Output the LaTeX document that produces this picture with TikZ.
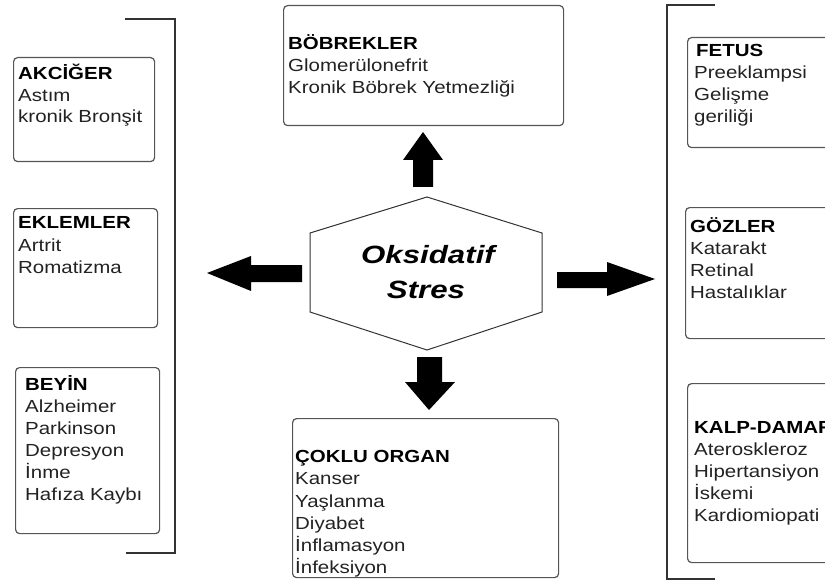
\documentclass[tikz,border=0pt]{standalone}
\usepackage{fontspec}
\setmainfont{Liberation Sans}[FakeStretch=1.17]
\newfontfamily\hexfont{Liberation Sans}[FakeStretch=1.25]
\definecolor{boxc}{HTML}{555555}
\definecolor{brkc}{HTML}{333333}
\definecolor{txc}{HTML}{222222}
\begin{document}
\begin{tikzpicture}[x=1pt,y=-1pt,
  box/.style={draw=boxc, line width=1.2pt, rounded corners=4pt, inner sep=0pt, anchor=north west},
  brk/.style={draw=brkc, line width=1.4pt},
  hd/.style={anchor=base west, inner sep=0pt, font=\fontsize{17.5}{22}\selectfont\bfseries, text=black},
  tx/.style={anchor=base west, inner sep=0pt, font=\fontsize{17.5}{22}\selectfont, text=txc},
  hx/.style={anchor=base, inner sep=0pt, font=\hexfont\fontsize{25}{35}\selectfont\bfseries\itshape, text=black},
  blk/.style={fill=black}]
\useasboundingbox (0,0) rectangle (825,583);
\clip (0,0) rectangle (825,583);
% brackets
\draw[brk] (125,19) -- (175,19) -- (175,553) -- (126,553);
\draw[brk] (715,5) -- (667,5) -- (667,579) -- (715,579);
% boxes
\node[box, minimum width=141pt, minimum height=104pt] (akc) at (13,57) {};
\node[box, minimum width=144pt, minimum height=119pt] (ekl) at (13,208) {};
\node[box, minimum width=144pt, minimum height=166pt] (bey) at (15,367) {};
\node[box, minimum width=280pt, minimum height=120pt] (bob) at (283,5) {};
\node[box, minimum width=266pt, minimum height=159pt] (cok) at (292,418) {};
\node[box, minimum width=160pt, minimum height=110pt] (fet) at (687,37) {};
\node[box, minimum width=160pt, minimum height=131pt] (goz) at (685,207) {};
\node[box, minimum width=160pt, minimum height=179pt] (kal) at (687,383) {};
% hexagon
\draw[draw=brkc, line width=1pt] (427,197) -- (542,233) -- (542,312) -- (427,350) -- (310,312) -- (310,233) -- cycle;
\node[hx] (ox1) at (428,263) {Oksidatif};
\node[hx] (ox2) at (426,298) {Stres};
% arrows
\fill[blk] (413,187) -- (413,160) -- (403,160) -- (423,132) -- (443,160) -- (433,160) -- (433,187) -- cycle;
\fill[blk] (417,357) -- (417,382) -- (405,382) -- (429,410) -- (455,382) -- (442,382) -- (442,357) -- cycle;
\fill[blk] (302,265) -- (251,265) -- (251,256) -- (207,273) -- (251,291) -- (251,282) -- (302,282) -- cycle;
\fill[blk] (557,272) -- (607,272) -- (607,262) -- (655,279) -- (607,296) -- (607,288) -- (557,288) -- cycle;
% texts
\node[hd] (akc1) at (18,80) {AKCİĞER};
\node[tx] (akc2) at (18,101.5) {Astım};
\node[tx] (akc3) at (18,123) {kronik Bronşit};
\node[hd] (ekl1) at (18,229) {EKLEMLER};
\node[tx] (ekl2) at (18,251) {Artrit};
\node[tx] (ekl3) at (18,273) {Romatizma};
\node[hd] (bey1) at (25,390) {BEYİN};
\node[tx] (bey2) at (25,412) {Alzheimer};
\node[tx] (bey3) at (25,434) {Parkinson};
\node[tx] (bey4) at (25,456) {Depresyon};
\node[tx] (bey5) at (25,478) {İnme};
\node[tx] (bey6) at (25,500) {Hafıza Kaybı};
\node[hd] (bob1) at (288,50) {BÖBREKLER};
\node[tx] (bob2) at (288,72) {Glomerülonefrit};
\node[tx] (bob3) at (288,94) {Kronik Böbrek Yetmezliği};
\node[hd] (cok1) at (295,462) {ÇOKLU ORGAN};
\node[tx] (cok2) at (295,484.5) {Kanser};
\node[tx] (cok3) at (295,507) {Yaşlanma};
\node[tx] (cok4) at (295,529) {Diyabet};
\node[tx] (cok5) at (295,551) {İnflamasyon};
\node[tx] (cok6) at (295,573) {İnfeksiyon};
\node[hd] (fet1) at (696,57) {FETUS};
\node[tx] (fet2) at (694,79) {Preeklampsi};
\node[tx] (fet3) at (694,101) {Gelişme};
\node[tx] (fet4) at (694,123) {geriliği};
\node[hd] (goz1) at (690,232) {GÖZLER};
\node[tx] (goz2) at (690,254.5) {Katarakt};
\node[tx] (goz3) at (690,276.5) {Retinal};
\node[tx] (goz4) at (690,298) {Hastalıklar};
\node[hd] (kal1) at (694,433) {KALP-DAMAR};
\node[tx] (kal2) at (694,455) {Ateroskleroz};
\node[tx] (kal3) at (694,477) {Hipertansiyon};
\node[tx] (kal4) at (694,499) {İskemi};
\node[tx] (kal5) at (694,521) {Kardiomiopati};
\end{tikzpicture}
\end{document}
